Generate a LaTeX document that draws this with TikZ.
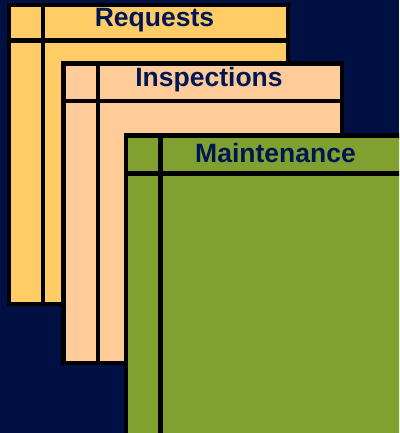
\documentclass[tikz,border=0pt]{standalone}
\usepackage{fontspec}
\setmainfont{Liberation Sans}
\definecolor{bgnavy}{RGB}{0,16,66}
\definecolor{reqfill}{RGB}{255,204,102}
\definecolor{insfill}{RGB}{255,204,153}
\definecolor{mntfill}{RGB}{128,160,48}
\definecolor{titlecol}{RGB}{0,22,82}
\tikzset{
  tablebox/.style={draw=black, line width=4.5pt},
  divider/.style={draw=black, line width=4.5pt},
  title/.style={anchor=base, inner sep=0pt, text=titlecol, font=\bfseries\fontsize{26.5}{30}\selectfont}
}
\begin{document}
\begin{tikzpicture}[x=1pt,y=-1pt]
\fill[bgnavy] (0,0) rectangle (399,433);
\clip (0,0) rectangle (399,433);
% Requests
\path[tablebox, fill=reqfill] (9,5) rectangle (288,304);
\draw[divider] (43,5) -- (43,304);
\draw[divider] (9,40.5) -- (288,40.5);
\node[title] (req) at (154.5,27) {Requests};
% Inspections
\path[tablebox, fill=insfill] (63.5,63.5) rectangle (342,363);
\draw[divider] (98,63.5) -- (98,363);
\draw[divider] (63.5,101) -- (342,101);
\node[title] (ins) at (209,87) {Inspections};
% Maintenance
\path[tablebox, fill=mntfill] (126,135.5) rectangle (405,440);
\draw[divider] (160.5,135.5) -- (160.5,440);
\draw[divider] (126,173.5) -- (405,173.5);
\node[title] (mnt) at (275.5,162) {Maintenance};
\end{tikzpicture}
\end{document}
